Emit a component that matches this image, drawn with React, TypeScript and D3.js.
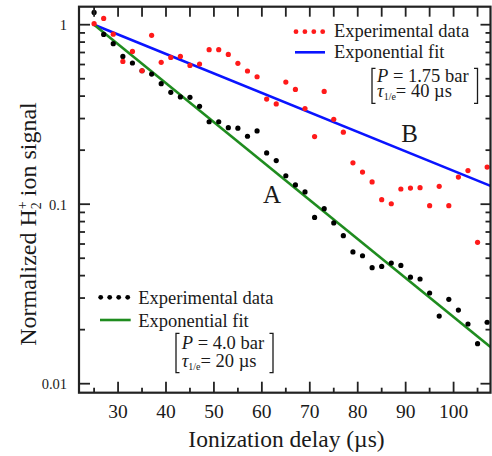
import React from "react";
import * as d3 from "d3";

const delays = [25, 27, 29, 31, 33, 35, 37, 39, 41, 43, 45, 47, 49, 51, 53, 55, 57, 59, 61, 63, 65, 67, 69, 71, 73, 75, 77, 79, 81, 83, 85, 87, 89, 91, 93, 95, 97, 99, 101, 103, 105, 107];
const signalA = [1.17, 0.883, 0.784, 0.666, 0.612, 0.554, 0.531, 0.469, 0.42, 0.396, 0.394, 0.351, 0.288, 0.288, 0.267, 0.265, 0.239, 0.256, 0.193, 0.175, 0.144, 0.128, 0.117, 0.0844, 0.0944, 0.0786, 0.0668, 0.0542, 0.0516, 0.0443, 0.045, 0.047, 0.0456, 0.0392, 0.0383, 0.032, 0.0238, 0.0295, 0.0257, 0.0215, 0.0167, 0.022];
const signalB = [1.013, 1.084, 0.885, 0.624, 0.71, 0.554, 0.872, 0.617, 0.657, 0.666, 0.593, 0.604, 0.726, 0.726, 0.683, 0.609, 0.552, 0.513, 0.385, 0.362, 0.479, 0.436, 0.341, 0.238, 0.425, 0.297, 0.252, 0.17, 0.151, 0.133, 0.106, 0.1006, 0.1215, 0.123, 0.1236, 0.0981, 0.1257, 0.0981, 0.1417, 0.154, 0.0613, 0.161];
const fitDelays = [25, 107.7];
const fitA = [1, 0.016];
const fitB = [1, 0.1265];
const xMajorTicks = [30, 40, 50, 60, 70, 80, 90, 100];
const xMinorTicks = [25, 35, 45, 55, 65, 75, 85, 95, 105];
const yMajorTicks = [1, 0.1, 0.01];
const yMajorLabels = ["1", "0.1", "0.01"];
const yMinorMultipliers = [2, 3, 4, 5, 6, 7, 8, 9];
const yMinorDecades = [0.01, 0.1];

const W = 492;
const H = 456;
const L = 79, R = 490.5, T = 6.7, B = 392.7;
const FONT = "'Liberation Serif', 'Times New Roman', 'DejaVu Serif', serif";
const INK = "#1a1a1a";

export default function App() {
  const x = d3.scaleLinear().domain([21.85, 107.7]).range([L, R]);
  const y = d3.scaleLog().domain([0.008909, 1.2597]).range([B, T]);
  const yMinor: number[] = [];
  yMinorDecades.forEach((d) => yMinorMultipliers.forEach((m) => yMinor.push(d * m)));
  const line = d3
    .line<[number, number]>()
    .x((d) => x(d[0]))
    .y((d) => y(d[1]));
  const lineA = line(fitDelays.map((t, i) => [t, fitA[i]] as [number, number])) || "";
  const lineB = line(fitDelays.map((t, i) => [t, fitB[i]] as [number, number])) || "";

  const legendTop = 296;
  return (
    <div style={{ position: "absolute", left: 0, top: 0 }}>
      <svg width={W} height={H} viewBox={`0 0 ${W} ${H}`} style={{ display: "block", background: "#fff" }}>
        <defs>
          <clipPath id="plotclip">
            <rect x={L} y={T} width={R - L} height={B - T} />
          </clipPath>
        </defs>
        <g clipPath="url(#plotclip)">
          <path d={lineB} stroke="#0a14ff" strokeWidth={2.6} fill="none" />
          <path d={lineA} stroke="#1f8c1f" strokeWidth={2.6} fill="none" />
          {delays.map((t, i) => (
            <circle key={"a" + i} cx={x(t)} cy={y(signalA[i])} r={2.6} fill="#000" />
          ))}
          {delays.map((t, i) => (
            <circle key={"b" + i} cx={x(t)} cy={y(signalB[i])} r={2.6} fill="#ff1a1a" />
          ))}
        </g>
        {/* frame */}
        <rect x={L} y={T} width={R - L} height={B - T} fill="none" stroke="#222" strokeWidth={2.2} />
        {/* bottom ticks */}
        {xMajorTicks.map((t) => (
          <line key={"bx" + t} x1={x(t)} x2={x(t)} y1={B} y2={B - 11} stroke="#222" strokeWidth={1.8} />
        ))}
        {xMinorTicks.map((t) => (
          <line key={"bm" + t} x1={x(t)} x2={x(t)} y1={B} y2={B - 5} stroke="#222" strokeWidth={1.8} />
        ))}
        {/* top ticks */}
        {[...xMajorTicks, ...xMinorTicks].map((t) => (
          <line key={"tx" + t} x1={x(t)} x2={x(t)} y1={T} y2={T + 10} stroke="#222" strokeWidth={1.8} />
        ))}
        {/* left/right ticks */}
        {yMajorTicks.map((v) => (
          <g key={"ym" + v}>
            <line x1={L} x2={L + 11} y1={y(v)} y2={y(v)} stroke="#222" strokeWidth={1.8} />
            <line x1={R} x2={R - 10} y1={y(v)} y2={y(v)} stroke="#222" strokeWidth={1.8} />
          </g>
        ))}
        {yMinor.map((v) => (
          <g key={"yn" + v}>
            <line x1={L} x2={L + 6} y1={y(v)} y2={y(v)} stroke="#222" strokeWidth={1.8} />
            <line x1={R} x2={R - 5} y1={y(v)} y2={y(v)} stroke="#222" strokeWidth={1.8} />
          </g>
        ))}
        {/* tick labels */}
        {xMajorTicks.map((t) => (
          <text key={"lx" + t} x={x(t)} y={418} textAnchor="middle" fontFamily={FONT} fontSize={19.5} fill={INK}>
            {t}
          </text>
        ))}
        {yMajorTicks.map((v, i) => (
          <text key={"ly" + v} x={67} y={y(v) + 5.5} textAnchor="end" fontFamily={FONT} fontSize={14.5} fill={INK}>
            {yMajorLabels[i]}
          </text>
        ))}
        {/* axis titles */}
        <text x={286.5} y={446.5} textAnchor="middle" fontFamily={FONT} fontSize={23.5} fill={INK}>
          Ionization delay (µs)
        </text>
        <text transform="translate(35.5,224) rotate(-90)" textAnchor="middle" fontFamily={FONT} fontSize={24} fill={INK}>
          Normalized H
          <tspan fontSize={14} dy={-9}>+</tspan>
          <tspan fontSize={14} dx={-8} dy={14}>2</tspan>
          <tspan dy={-5}> ion signal</tspan>
        </text>
        {/* curve labels */}
        <text x={272} y={203} textAnchor="middle" fontFamily={FONT} fontSize={25} fill={INK}>A</text>
        <text x={409.7} y={141.7} textAnchor="middle" fontFamily={FONT} fontSize={25} fill={INK}>B</text>
        {/* top legend */}
        {[0, 1, 2, 3].map((k) => (
          <circle key={"lr" + k} cx={legendTop + k * 8.9} cy={31.7} r={2.4} fill="#ff1a1a" />
        ))}
        <text x={334} y={37} fontFamily={FONT} fontSize={18.5} fill={INK}>Experimental data</text>
        <line x1={295} x2={325} y1={52.3} y2={52.3} stroke="#0a14ff" strokeWidth={2.6} />
        <text x={334} y={58.3} fontFamily={FONT} fontSize={18.5} fill={INK}>Exponential fit</text>
        <path d="M375.5,68.3 H372 V103.3 H375.5 M474,68.3 H477.5 V103.3 H474" stroke={INK} strokeWidth={1.3} fill="none" />
        <text x={377} y={82} fontFamily={FONT} fontSize={18.5} fill={INK}>
          <tspan fontStyle="italic">P</tspan> = 1.75 bar
        </text>
        <text x={377} y={97} fontFamily={FONT} fontSize={18.5} fill={INK}>
          <tspan fontStyle="italic">τ</tspan>
          <tspan fontSize={10} dy={3}>1/e</tspan>
          <tspan dy={-3}>= 40 µs</tspan>
        </text>
        {/* bottom legend */}
        {[0, 1, 2, 3].map((k) => (
          <circle key={"lb" + k} cx={100.7 + k * 9} cy={297.3} r={2.4} fill="#000" />
        ))}
        <text x={138.3} y={304} fontFamily={FONT} fontSize={18.5} fill={INK}>Experimental data</text>
        <line x1={100} x2={130.7} y1={320} y2={320} stroke="#1f8c1f" strokeWidth={2.6} />
        <text x={138.3} y={326.7} fontFamily={FONT} fontSize={18.5} fill={INK}>Exponential fit</text>
        <path d="M179.5,333.3 H176 V372.7 H179.5 M269.5,333.3 H273 V372.7 H269.5" stroke={INK} strokeWidth={1.3} fill="none" />
        <text x={181.7} y={348.5} fontFamily={FONT} fontSize={18.5} fill={INK}>
          <tspan fontStyle="italic">P</tspan> = 4.0 bar
        </text>
        <text x={181.7} y={366.5} fontFamily={FONT} fontSize={18.5} fill={INK}>
          <tspan fontStyle="italic">τ</tspan>
          <tspan fontSize={10} dy={3}>1/e</tspan>
          <tspan dy={-3}>= 20 µs</tspan>
        </text>
      </svg>
    </div>
  );
}
